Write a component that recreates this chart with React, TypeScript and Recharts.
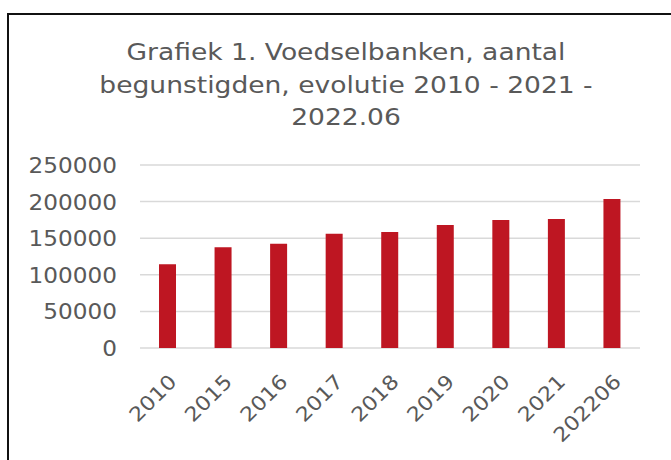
import React from 'react';
import { BarChart, Bar, XAxis, YAxis, CartesianGrid } from 'recharts';

const categories = ['2010', '2015', '2016', '2017', '2018', '2019', '2020', '2021', '202206'];
const beneficiaries = [114500, 137800, 142500, 156100, 158500, 168200, 175000, 176400, 203400];
const yTicks = [0, 50000, 100000, 150000, 200000, 250000];
const titleLines = ['Grafiek 1. Voedselbanken, aantal', 'begunstigden, evolutie 2010 - 2021 -', '2022.06'];

const data = categories.map((c, i) => ({ category: c, value: beneficiaries[i] }));

const FONT = '"DejaVu Sans", Verdana, sans-serif';
const TEXT = '#595959';

function YTick(props: any) {
  const { x, y, payload } = props;
  return (
    <text
      transform={`translate(${x},${y + 8}) scale(1.13,1)`}
      textAnchor="end"
      fontSize={20.5}
      fill={TEXT}
      fontFamily={FONT}
    >
      {payload.value}
    </text>
  );
}

function XTick(props: any) {
  const { x, y, payload } = props;
  return (
    <text
      transform={`translate(${x + 10},${y + 35}) rotate(-45) scale(1.12,1)`}
      textAnchor="end"
      fontSize={20}
      fill={TEXT}
      fontFamily={FONT}
    >
      {payload.value}
    </text>
  );
}

export default function App() {
  return (
    <div style={{ position: 'absolute', left: 0, top: 0, width: 671, height: 460, background: '#fff', overflow: 'hidden' }}>
      <div
        style={{
          position: 'absolute',
          left: 7,
          top: 13,
          width: 671,
          height: 460,
          borderTop: '2px solid #111',
          borderLeft: '2px solid #111',
        }}
      />
      <div
        style={{
          position: 'absolute',
          top: 36,
          left: 346,
          transform: 'translateX(-50%) scaleX(1.12)',
          fontFamily: FONT,
          fontSize: 23.7,
          lineHeight: '32.6px',
          color: TEXT,
          textAlign: 'center',
          whiteSpace: 'nowrap',
        }}
      >
        {titleLines.map((l, i) => (
          <div key={i}>{l}</div>
        ))}
      </div>
      <div style={{ position: 'absolute', left: 0, top: 0 }}>
        <BarChart
          width={671}
          height={460}
          data={data}
          margin={{ top: 165, right: 31, bottom: 12, left: 0 }}
          barCategoryGap={0}
        >
          <CartesianGrid vertical={false} stroke="#d9d9d9" strokeWidth={1.5} />
          <XAxis
            dataKey="category"
            axisLine={false}
            tickLine={false}
            tickSize={0}
            tickMargin={0}
            height={100}
            interval={0}
            tick={<XTick />}
          />
          <YAxis
            type="number"
            domain={[0, 250000]}
            ticks={yTicks}
            axisLine={false}
            tickLine={false}
            tickSize={0}
            tickMargin={23}
            width={140}
            tick={<YTick />}
          />
          <Bar dataKey="value" fill="#BE1622" barSize={17} isAnimationActive={false} />
        </BarChart>
      </div>
    </div>
  );
}
